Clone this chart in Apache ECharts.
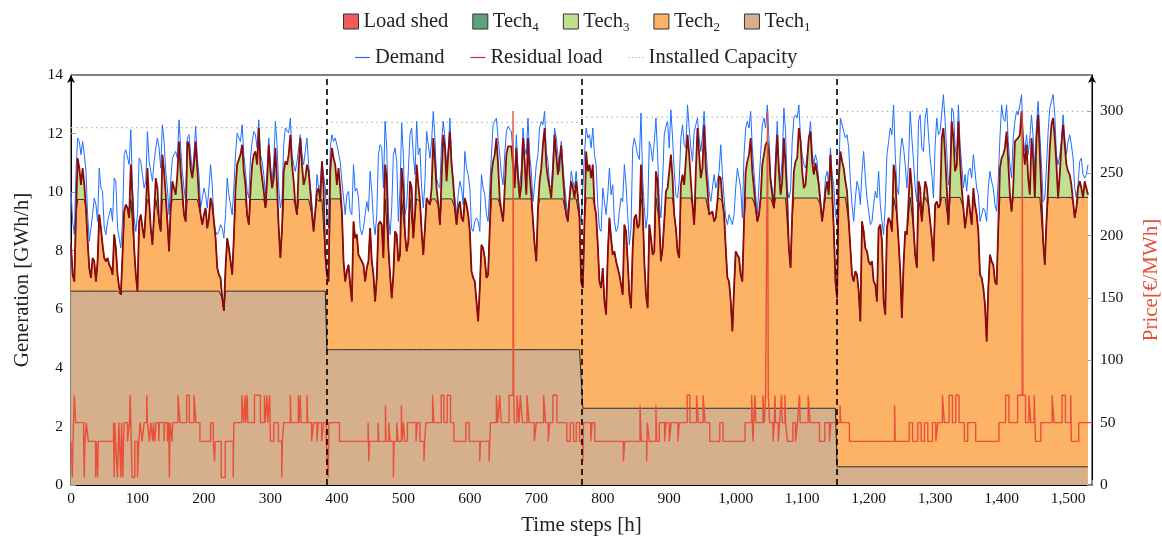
<!DOCTYPE html>
<html>
<head>
<meta charset="utf-8">
<script src="https://cdn.jsdelivr.net/npm/echarts@6/dist/echarts.min.js"></script>
<style>
  html, body { margin: 0; padding: 0; background: #fff; }
  #chart { width: 1162px; height: 538px; }
</style>
</head>
<body>
<div id="chart"></div>
<script>
// hourly samples every STEP hours
const STEP = 2.5;

const demand = [
  10.03,9.00,8.55,10.71,11.85,11.73,11.28,11.73,11.28,10.71,
  9.23,8.32,8.77,9.23,9.80,9.57,9.00,10.82,10.14,10.03,
  8.77,8.55,9.00,9.23,9.46,9.00,10.48,10.37,8.77,8.43,
  8.09,9.00,11.28,11.45,11.39,10.94,12.13,10.14,9.12,8.66,
  9.23,11.16,11.05,10.60,10.14,10.37,12.07,11.05,10.71,10.37,
  11.05,11.51,11.85,11.51,10.82,12.30,11.73,10.71,10.14,9.23,
  10.37,11.16,11.28,11.39,11.16,12.47,11.51,10.71,10.14,9.68,
  11.85,11.96,11.28,10.71,11.28,12.25,11.16,10.60,9.46,9.80,
  10.14,9.91,9.46,10.14,10.94,10.25,9.00,8.66,8.55,8.66,
  8.89,8.77,8.43,9.23,10.48,9.91,9.57,9.23,10.14,11.28,
  12.02,11.85,
  11.73,12.30,11.28,10.71,10.03,9.80,11.16,11.73,12.07,11.96,
  11.51,12.47,11.28,11.05,10.60,9.91,10.71,11.85,10.94,10.37,
  11.05,12.42,11.62,10.14,9.46,9.80,11.62,12.19,12.13,12.02,
  12.53,11.28,10.94,10.71,11.05,11.51,11.96,11.28,10.94,11.39,
  11.85,10.94,10.25,9.57,8.89,9.23,10.60,10.14,10.25,11.05,
  10.60,10.14,9.12,8.77,11.51,11.96,11.73,11.85,11.62,11.62,
  11.05,10.37,9.80,9.23,9.91,10.03,9.34,9.23,10.94,10.03,
  10.14,9.80,8.77,8.55,8.77,9.23,9.68,9.34,10.71,10.03,
  9.00,8.55,9.23,11.28,11.62,11.51,10.14,12.42,11.51,9.23,
  8.55,9.46,11.28,11.51,11.05,9.00,10.14,12.36,11.28,9.23,
  9.57,10.71,
  11.96,12.19,11.28,10.60,12.42,11.28,11.51,10.14,9.46,10.37,
  12.07,11.62,11.16,11.73,12.76,11.85,10.48,10.25,10.14,11.73,
  12.42,11.85,10.94,11.39,12.53,11.16,10.14,9.80,9.23,9.91,
  10.37,10.14,9.57,11.39,10.82,10.60,10.14,8.77,8.66,9.00,
  9.12,9.00,8.66,10.60,10.14,9.91,9.23,9.00,10.14,11.28,
  12.30,12.30,12.53,11.85,11.28,10.60,10.25,11.28,12.07,12.25,
  12.30,12.07,11.28,10.60,11.96,10.71,10.14,10.82,12.19,11.51,
  11.28,12.53,11.28,10.71,9.68,10.25,10.94,11.28,12.19,12.42,
  12.30,12.76,11.39,11.05,10.25,10.14,11.05,12.19,11.85,11.28,
  10.71,11.73,10.94,10.25,9.68,9.23,9.80,10.71,10.37,10.14,
  10.71,9.91,
  9.23,9.00,10.14,11.28,12.19,11.85,11.96,11.51,12.19,11.28,
  10.94,9.57,8.77,8.66,10.14,9.68,9.23,9.91,10.82,9.91,
  10.25,9.00,8.66,8.77,9.34,9.80,9.68,10.94,10.25,9.23,
  8.20,8.77,11.51,11.85,11.90,11.28,11.11,12.70,10.48,9.46,
  8.77,9.23,11.73,11.51,11.05,11.73,12.53,11.28,9.68,9.12,
  10.37,11.96,12.25,12.42,11.51,12.81,11.85,10.71,9.91,9.80,
  10.37,11.85,12.30,11.62,11.51,12.98,12.19,11.51,11.05,12.07,
  12.07,12.53,11.85,11.39,11.96,12.76,11.62,10.71,10.03,9.68,
  10.14,10.60,10.14,10.37,10.71,11.62,10.60,9.80,9.12,8.89,
  9.23,9.23,8.89,9.23,10.14,10.82,10.48,10.14,9.12,11.28,
  12.19,12.42,
  12.19,12.76,11.51,10.71,9.91,9.23,10.25,11.28,12.30,12.53,
  12.19,12.98,11.85,10.48,10.14,9.57,11.28,12.42,10.94,10.37,
  11.16,12.87,12.07,10.14,9.80,10.03,11.73,12.53,12.64,12.53,
  12.98,11.85,11.28,10.94,10.82,11.28,11.85,12.42,11.39,10.94,
  11.28,11.05,10.37,9.80,9.12,9.57,10.48,10.71,10.25,11.51,
  10.60,10.25,9.23,9.00,10.48,12.53,12.30,12.07,11.85,11.96,
  11.51,10.37,9.57,9.00,9.80,10.37,10.14,9.57,10.71,11.39,
  10.48,9.80,9.80,8.89,9.00,9.57,10.03,9.80,10.71,9.57,
  9.00,8.55,9.57,11.28,11.73,12.19,11.96,12.98,11.28,10.14,
  9.91,11.28,11.85,11.51,10.94,10.14,11.05,12.76,11.85,11.05,
  10.14,9.68,
  12.42,12.64,11.51,11.39,12.53,12.87,11.96,11.16,10.60,9.80,
  11.62,12.53,11.96,12.07,12.07,13.33,12.42,11.39,10.25,10.60,
  12.87,12.76,11.62,11.05,12.98,11.62,10.94,10.14,10.60,10.03,
  10.71,10.82,10.48,11.28,10.71,10.14,9.91,9.00,9.23,9.46,
  9.34,9.00,10.14,10.71,10.37,10.14,9.57,9.34,10.48,11.85,
  12.98,12.53,12.42,12.98,11.73,10.94,10.48,11.85,12.42,12.76,
  12.64,12.98,13.33,11.85,11.39,11.96,11.28,11.85,12.64,11.85,
  10.71,12.30,13.10,11.96,10.94,9.68,9.80,10.82,12.07,12.87,
  12.87,13.33,12.64,11.28,10.94,11.28,11.73,12.64,11.85,11.28,
  11.73,11.96,11.62,11.16,10.14,9.80,10.25,11.05,11.16,10.60,
  10.48,10.60,10.94
];

const residual = [
  8.20,7.18,6.95,9.23,11.16,10.82,10.25,10.82,10.25,9.46,
  8.32,7.41,7.07,7.75,7.64,6.95,7.64,9.23,8.77,8.20,
  7.75,7.64,7.75,7.52,7.41,7.18,8.55,8.09,7.18,6.73,
  6.50,7.86,9.34,9.57,9.46,9.12,10.94,9.80,8.09,7.18,
  6.61,9.00,9.23,8.77,8.43,9.34,10.82,9.68,8.77,8.20,
  9.23,10.48,10.14,9.00,8.66,11.28,10.71,9.91,9.00,7.98,
  9.46,10.37,10.14,9.91,10.60,11.73,10.71,10.03,9.23,9.00,
  11.73,11.62,10.82,10.48,10.94,11.73,10.82,9.80,9.23,8.89,
  9.23,9.46,8.77,9.12,9.80,9.57,9.00,8.43,7.41,7.18,
  7.07,6.38,5.95,7.41,8.43,8.09,7.64,7.18,8.43,10.14,
  10.94,10.88,
  11.28,11.62,10.71,10.25,9.23,8.89,10.03,10.94,11.28,11.39,
  10.94,12.19,10.94,10.48,10.03,9.46,10.37,11.62,10.71,10.14,
  10.48,11.51,10.25,8.77,7.75,8.77,10.71,11.05,10.94,11.28,
  11.96,10.94,10.37,9.57,9.23,10.82,11.85,10.94,10.25,10.48,
  10.94,10.71,10.03,9.23,8.66,9.34,10.03,10.14,9.68,11.05,
  10.14,7.86,7.18,6.95,10.71,11.51,11.16,10.94,10.25,10.82,
  10.14,9.34,7.64,6.95,7.30,7.52,6.84,6.27,9.00,8.43,
  8.55,7.86,7.75,7.75,7.52,6.95,7.41,7.64,8.77,7.64,
  7.18,6.27,7.07,8.89,9.00,8.89,7.75,10.94,10.48,8.09,
  7.18,6.38,7.18,8.66,8.55,7.64,7.86,10.82,10.14,8.55,
  7.98,8.32,
  10.37,10.14,8.43,9.23,10.94,10.25,9.68,8.66,7.86,8.77,
  9.80,9.68,9.57,10.14,11.85,11.05,10.14,9.57,8.89,10.48,
  11.96,11.51,10.37,11.28,12.07,10.94,10.37,9.46,8.89,9.46,
  9.68,9.12,9.00,9.80,9.57,9.23,8.66,7.30,7.07,6.95,
  6.27,5.59,6.73,8.20,8.09,7.75,7.07,7.18,8.77,10.60,
  11.05,11.28,11.85,10.94,9.80,9.34,9.00,10.14,11.28,11.56,
  11.51,11.56,10.94,10.14,11.51,10.48,9.80,10.25,11.85,11.05,
  9.91,11.85,10.60,9.91,9.00,8.20,7.64,9.46,10.37,10.82,
  11.62,12.19,10.94,10.48,10.14,9.80,10.71,11.96,11.28,10.60,
  10.55,11.60,10.60,9.80,9.23,9.00,9.80,10.37,10.14,9.80,
  10.37,9.85,
  9.10,6.95,6.73,9.00,11.39,10.71,10.94,10.48,10.94,9.57,
  9.23,8.20,6.95,6.73,7.41,6.27,5.82,7.86,9.12,8.43,
  7.86,7.98,7.64,7.64,7.18,6.84,6.50,8.89,8.66,7.64,
  6.50,6.04,8.09,9.12,9.23,8.77,8.89,10.94,9.46,7.64,
  6.50,6.04,8.89,8.43,7.86,7.98,10.71,10.37,9.00,7.64,
  8.09,9.00,10.03,10.14,10.14,11.28,10.48,9.23,8.77,7.98,
  7.75,10.25,10.60,10.25,10.25,11.96,11.28,10.37,9.57,8.89,
  10.71,12.19,11.28,10.48,10.82,12.30,10.82,10.14,9.23,9.23,
  9.34,9.00,9.12,9.68,10.55,10.48,9.68,9.23,8.09,7.07,
  6.95,6.27,5.25,6.73,7.98,7.86,7.75,7.18,6.95,9.00,
  10.71,11.05,
  11.28,11.85,10.71,10.14,9.46,9.00,9.23,9.80,10.94,11.28,
  11.62,11.73,11.39,10.37,9.91,9.45,10.82,11.96,10.71,9.91,
  10.37,11.85,10.94,9.80,8.09,7.41,9.23,10.71,11.05,11.16,
  12.19,11.73,10.71,10.14,10.25,11.05,11.85,12.07,11.05,10.60,
  11.00,11.05,10.25,9.57,9.00,9.46,10.03,10.37,9.91,11.28,
  10.14,8.77,6.95,6.38,10.37,11.39,11.05,10.82,10.37,10.03,
  9.00,8.09,7.18,6.95,7.30,7.18,6.61,5.59,9.00,8.66,
  8.09,7.98,7.64,7.52,7.64,6.95,6.84,6.27,8.77,8.89,
  8.32,6.27,5.82,8.77,9.12,9.00,8.66,10.94,10.60,9.23,
  8.32,7.30,5.70,7.52,8.66,8.55,8.55,10.82,10.14,8.77,
  7.86,7.41,
  10.37,10.14,9.00,9.68,10.37,10.14,9.57,9.00,8.43,7.64,
  9.57,9.68,9.46,9.57,11.85,12.19,11.28,10.14,8.89,10.37,
  12.42,11.85,10.71,10.90,12.42,11.05,10.14,9.46,8.77,9.23,
  9.91,9.34,8.89,10.14,9.57,9.23,8.66,7.18,7.07,6.73,
  6.16,4.90,6.73,7.86,7.64,7.52,6.95,6.84,8.77,10.82,
  11.16,11.28,11.51,12.07,11.05,9.91,9.34,10.14,11.73,11.73,
  11.85,11.96,12.76,11.51,10.94,11.62,10.48,9.91,11.85,11.16,
  9.80,11.85,12.64,11.28,9.80,8.32,7.52,9.00,10.25,11.51,
  12.30,12.53,11.85,10.94,9.80,10.60,11.60,12.30,11.62,10.94,
  10.71,10.60,10.25,9.68,9.12,9.46,10.14,10.37,10.14,9.80,
  10.37,10.14,9.91
];

// four periods of 384 h
const periodStart = [0, 384, 768, 1152];
const periodEnd = 1536;
const tech1Level = [6.62, 4.62, 2.62, 0.62];
const tech2Level = [9.75, 9.77, 9.80, 9.82];
const installedCapacity = [12.20, 12.38, 12.56, 12.76];

// [hour where level starts, price]
const priceSteps = [
  [0,35],[2,6],[3,35],[5,72],[7,50],[19,35],[20,6],[21,35],[23,50],[26,35],[37,6],[38,35],[40,6],[41,35],
  [64,50],[65,6],[66,50],[67,35],[70,6],[72,50],[73,35],[75,6],[76,50],[78,6],[79,35],[80,50],[85,35],[88,50],
  [89,72],[90,50],[92,6],[96,35],[100,6],[102,35],[104,50],[107,35],[110,50],[114,72],[115,50],
  [118,35],[120,50],[123,35],[124,50],[126,35],[128,50],[132,35],[133,50],[140,35],[141,50],[145,35],[147,50],
  [148,6],[149,50],[152,35],[153,50],[161,72],[164,50],[174,72],[178,50],[185,72],[188,50],
  [194,35],[210,50],[214,35],[216,19],[217,35],[226,6],[232,35],[244,6],[245,50],[257,72],[260,50],[262,72],
  [263,50],[265,72],[266,50],[276,72],[285,50],[291,72],[292,50],[295,72],[296,50],[299,72],[300,35],[305,50],
  [312,35],[317,6],[318,35],[320,50],[330,72],[331,50],[342,72],[343,50],[345,72],[346,50],[355,72],[356,50],
  [362,35],[365,50],[370,35],[372,50],[377,35],[380,50],
  [384,35],[387,6],[388,50],[404,35],[447,50],[448,19],[449,35],[462,50],[463,35],[473,64],[474,35],[478,50],
  [480,35],[485,6],[486,35],[490,50],[492,35],[497,64],[498,35],[500,50],[502,35],[506,50],[519,35],[521,50],
  [525,35],[531,19],[532,35],[534,50],[544,72],[546,50],[557,72],[561,50],[566,72],[571,50],[576,35],[594,50],
  [599,35],[615,19],[616,35],[629,19],[630,35],[631,50],[640,72],[642,50],[645,72],[647,50],[659,72],[665,300],
  [666,72],[667,50],[671,72],[674,50],[676,72],[679,50],[686,72],[689,50],[697,35],[700,50],[711,72],[714,50],
  [718,35],[720,50],[725,72],[731,50],[746,35],[751,50],[756,35],[760,50],[765,35],
  [768,35],[770,19],[771,50],[782,35],[784,50],[788,35],[831,19],[833,35],[856,64],[858,35],[866,19],[867,50],
  [870,35],[880,64],[881,35],[885,50],[893,35],[895,50],[900,35],[903,50],[913,35],[915,50],[927,72],[931,50],
  [941,72],[944,50],[951,72],[954,50],[961,35],[976,50],[981,35],[1014,50],[1024,72],[1025,50],[1026,35],
  [1027,50],[1029,72],[1030,50],[1041,72],[1043,50],[1045,72],[1048,300],[1049,72],[1051,50],[1056,35],
  [1058,50],[1059,72],[1060,50],[1064,35],[1066,50],[1069,72],[1070,50],[1074,72],[1075,50],[1078,35],
  [1086,50],[1090,35],[1093,50],[1096,72],[1097,50],[1109,72],[1112,50],[1126,35],[1134,50],[1141,35],[1143,50],
  [1152,50],[1157,64],[1158,50],[1171,35],[1239,64],[1240,35],[1261,50],[1266,35],[1274,50],[1279,35],
  [1284,50],[1289,35],[1296,50],[1301,35],[1304,50],[1311,72],[1314,50],[1321,72],[1326,50],[1331,72],
  [1336,50],[1344,35],[1349,50],[1361,35],[1396,50],[1406,72],[1411,50],[1424,72],[1431,300],[1432,72],
  [1436,50],[1441,72],[1444,50],[1449,72],[1451,35],[1459,50],[1476,72],[1479,50],[1491,72],[1496,50],
  [1504,72],[1505,35],[1516,50],[1536,50]
];

const FONT = '"Liberation Serif", "DejaVu Serif", serif';
const C_SHED = '#f35b5b', C_T4 = '#5fa07e', C_T3 = '#bfe08f', C_T2 = '#fdb366', C_T1 = '#d6b08c';
const C_PRICE = '#e8503a', C_DEMAND = '#1f6fff', C_RES = '#8b0a0a', C_CAP = '#b5b5b5';

const hours = demand.map((_, i) => i * STEP);
function periodOf(h) {
  let p = 0;
  for (let k = 1; k < periodStart.length; k++) if (h >= periodStart[k]) p = k;
  return p;
}

// cumulative tops of the generation stack (tech1 <= tech1+tech2 <= residual load)
const topTech1 = [], topTech2 = [], topTech3 = [];
hours.forEach((h, i) => {
  const p = periodOf(h);
  const r = residual[i];
  topTech1.push([h, Math.min(r, tech1Level[p])]);
  topTech2.push([h, Math.min(r, tech2Level[p])]);
  topTech3.push([h, r]);
});

const capData = [];
periodStart.forEach((s, p) => {
  const e = p + 1 < periodStart.length ? periodStart[p + 1] : periodEnd;
  capData.push([s, installedCapacity[p]], [e, installedCapacity[p]], [e, '-']);
});

const LINE_ICON = 'path://M0,0M0,4.2L20,4.2L20,5.8L0,5.8ZM20,10';
const DOT_ICON = 'path://M0,0M0,4.4h1.6v1.2h-1.6zM4.5,4.4h1.6v1.2h-1.6zM9,4.4h1.6v1.2h-1.6zM13.5,4.4h1.6v1.2h-1.6zM18,4.4h1.6v1.2h-1.6zM20,10';

const legendText = {
  fontFamily: FONT, fontSize: 20.5, color: '#222',
  rich: {
    n: { fontFamily: FONT, fontSize: 20.5, lineHeight: 26, color: '#222' },
    s: { fontFamily: FONT, fontSize: 13, lineHeight: 13, verticalAlign: 'bottom', color: '#222' }
  }
};

const areaSeries = (name, data, color, lineW) => ({
  name, type: 'line', data, color,
  symbol: 'none', silent: true,
  lineStyle: { color: '#2a2a2a', width: lineW },
  areaStyle: { color, opacity: 1, origin: 'start' }
});

const chart = echarts.init(document.getElementById('chart'));
chart.setOption({
  animation: false,
  backgroundColor: '#fff',
  grid: {
    left: 71, right: 70, top: 75, bottom: 53, outerBoundsMode: 'none', containLabel: false,
    show: true, borderColor: '#000', borderWidth: 1
  },
  legend: [
    {
      data: ['Load shed', 'Tech4', 'Tech3', 'Tech2', 'Tech1'],
      left: 343, top: 11, padding: 0, itemWidth: 15, itemHeight: 15, itemGap: 24,
      icon: 'rect', itemStyle: { borderColor: '#333', borderWidth: 1 },
      formatter: n => n.indexOf('Tech') === 0 ? '{n|Tech}{s|' + n.slice(4) + '}' : n,
      textStyle: legendText, selectedMode: false
    },
    {
      data: [
        { name: 'Demand', icon: LINE_ICON, itemStyle: { color: C_DEMAND, borderWidth: 0 } },
        { name: 'Residual load', icon: LINE_ICON, itemStyle: { color: '#c0302a', borderWidth: 0 } },
        { name: 'Installed Capacity', icon: DOT_ICON, itemStyle: { color: C_CAP, borderWidth: 0 } }
      ],
      left: 355, top: 47, padding: 0, itemWidth: 15, itemHeight: 10, itemGap: 26,
      textStyle: legendText, selectedMode: false
    }
  ],
  xAxis: {
    type: 'value', min: 0, max: periodEnd, interval: 100,
    name: 'Time steps [h]', nameLocation: 'middle', nameGap: 30,
    nameTextStyle: { fontFamily: FONT, fontSize: 21, color: '#222' },
    axisLine: { lineStyle: { color: '#000', width: 1 } },
    axisTick: { inside: true, length: 5, lineStyle: { color: '#999' } },
    axisLabel: {
      fontFamily: FONT, fontSize: 15.5, color: '#111', margin: 6,
      formatter: v => v % 100 ? '' : v.toLocaleString('en-US')
    },
    splitLine: { show: false }
  },
  yAxis: [
    {
      type: 'value', min: 0, max: 14, interval: 2,
      name: 'Generation [GWh/h]', nameLocation: 'middle', nameRotate: 90, nameGap: 38,
      nameTextStyle: { fontFamily: FONT, fontSize: 21, color: '#222' },
      axisLine: { show: true, symbol: ['none', 'arrow'], symbolSize: [6, 8], lineStyle: { color: '#000' } },
      axisTick: { inside: true, length: 5, lineStyle: { color: '#999' } },
      axisLabel: { fontFamily: FONT, fontSize: 15.5, color: '#111', margin: 8 },
      splitLine: { show: false }
    },
    {
      type: 'value', position: 'right', min: 0, max: 328.9, interval: 50,
      name: 'Price[€/MWh]', nameLocation: 'middle', nameRotate: 90, nameGap: 49,
      nameTextStyle: { fontFamily: FONT, fontSize: 21, color: C_PRICE },
      axisLine: { show: true, symbol: ['none', 'arrow'], symbolSize: [6, 8], lineStyle: { color: '#000' } },
      axisTick: { inside: true, length: 5, lineStyle: { color: '#999' } },
      axisLabel: {
        fontFamily: FONT, fontSize: 15.5, color: '#111', margin: 8,
        formatter: v => v % 50 ? '' : String(v)
      },
      splitLine: { show: false }
    }
  ],
  series: [
    areaSeries('Tech3', topTech3, C_T3, 0),
    areaSeries('Tech2', topTech2, C_T2, 1),
    areaSeries('Tech1', topTech1, C_T1, 1),
    areaSeries('Tech4', [], C_T4, 0),
    areaSeries('Load shed', [], C_SHED, 0),
    {
      name: 'Installed Capacity', type: 'line', data: capData, color: C_CAP,
      symbol: 'none', silent: true,
      lineStyle: { color: C_CAP, width: 1.2, type: [1.5, 3.5] }
    },
    {
      name: 'Demand', type: 'line', data: hours.map((h, i) => [h, demand[i]]),
      color: C_DEMAND, symbol: 'none', silent: true,
      lineStyle: { color: C_DEMAND, width: 1 }
    },
    {
      name: 'Residual load', type: 'line', data: hours.map((h, i) => [h, residual[i]]),
      color: C_RES, symbol: 'none', silent: true,
      lineStyle: { color: C_RES, width: 1.8 }
    },
    {
      name: 'Price', type: 'line', yAxisIndex: 1, step: 'end', data: priceSteps,
      color: C_PRICE, symbol: 'none', silent: true,
      lineStyle: { color: C_PRICE, width: 1.4 },
      markLine: {
        silent: true, symbol: 'none', label: { show: false },
        lineStyle: { color: '#000', type: [6, 4], width: 1.6 },
        data: periodStart.slice(1).map(x => ({ xAxis: x }))
      }
    }
  ]
});
</script>
</body>
</html>
